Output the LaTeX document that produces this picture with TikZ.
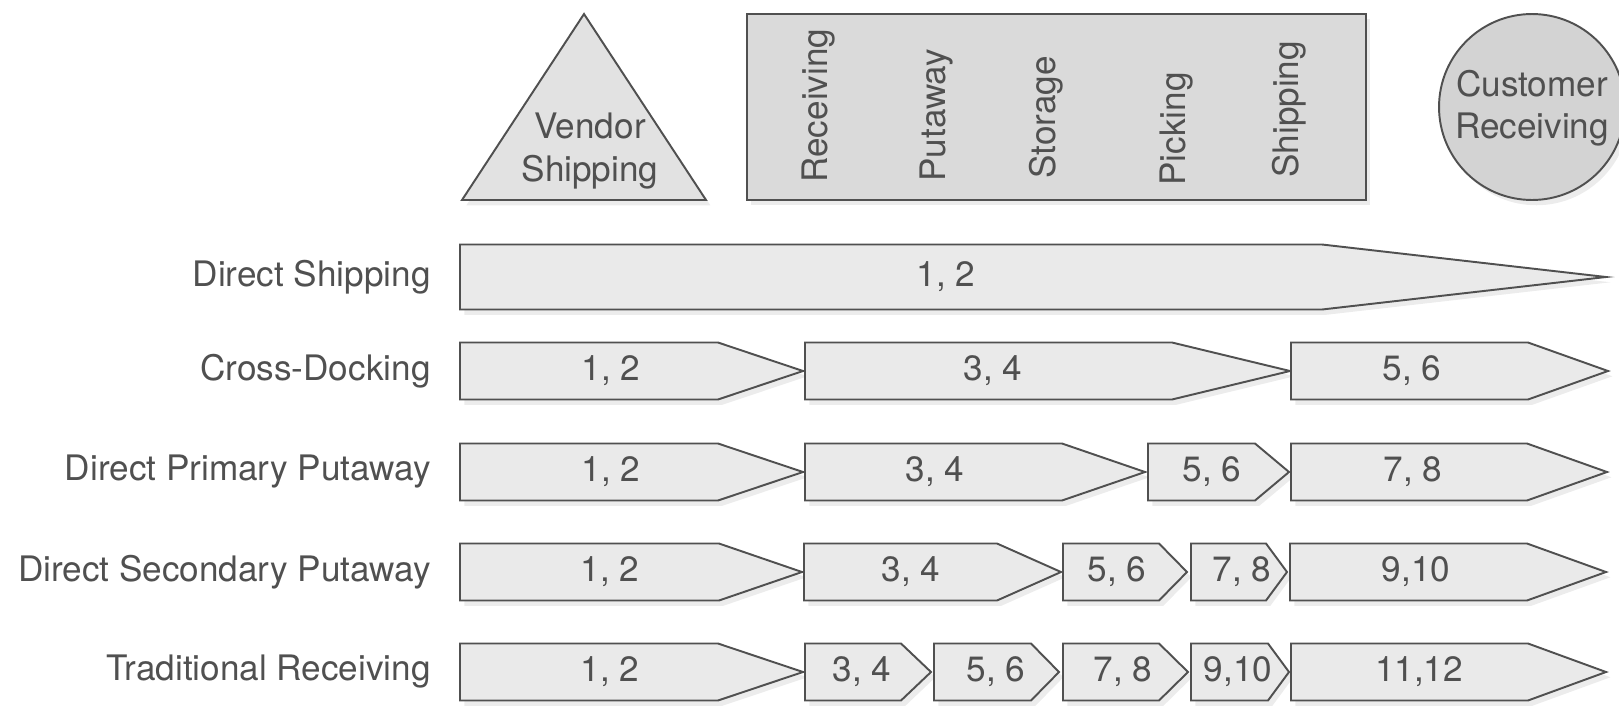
\documentclass[tikz,border=0pt]{standalone}
\usepackage{fontspec}
\setmainfont{TeX Gyre Heros}
\usetikzlibrary{shadows}

\definecolor{inkgray}{HTML}{505050}
\definecolor{segfill}{HTML}{EAEAEA}
\definecolor{vendfill}{HTML}{E2E2E2}
\definecolor{whfill}{HTML}{DADADA}
\definecolor{custfill}{HTML}{D3D3D3}

\begin{document}
\begin{tikzpicture}[x=0.02cm, y=-0.02cm,
    every node/.style={text=inkgray, font=\fontsize{20}{24}\selectfont, inner sep=0pt},
    part/.style={draw=inkgray, line width=1.1pt,
      drop shadow={shadow xshift=2.5pt, shadow yshift=-3pt, fill=black!15}},
    seg/.style={part, fill=segfill},
    rowlabel/.style={anchor=east},
    stage/.style={rotate=90, anchor=base west}]
        \useasboundingbox (0,0) rectangle (1619,714);

        % Vendor
        \draw[part, fill=vendfill] (462,200) -- (584,14) -- (706,200) -- cycle;
        \node[align=center] (vendor) at (590,151) {Vendor\\Shipping};

        % Warehouse with its stages
        \draw[part, fill=whfill] (747,14) rectangle (1366,200);
        \node[stage] (rcv) at (827,183) {Receiving};
        \node[stage] (put) at (945,182) {Putaway};
        \node[stage] (sto) at (1055,179) {Storage};
        \node[stage] (pck) at (1185,186) {Picking};
        \node[stage] (shp) at (1298,178) {Shipping};

        % Customer
        \draw[part, fill=custfill] (1532,107) circle (1.86cm);
        \node[align=center] (cust) at (1532,108) {Customer\\Receiving};

        % Direct Shipping
        \node[rowlabel] (ds) at (431,277) {Direct Shipping};
        \draw[seg] (460,244.5) -- (1322,244.5) -- (1606,277) -- (1322,309.5) -- (460,309.5) -- cycle;
        \node (ds1) at (946,277) {1, 2};

        % Cross-Docking
        \node[rowlabel] (cd) at (431,371) {Cross-Docking};
        \foreach \xl/\xs/\xt/\xc/\lbl [count=\i] in {460/718/803/611/{1, 2}, 805/1172/1290/993/{3, 4},
            1291/1528/1608/1412/{5, 6}} {
          \draw[seg] (\xl,342.5) -- (\xs,342.5) -- (\xt,371) -- (\xs,399.5) -- (\xl,399.5) -- cycle;
          \node (cd\i) at (\xc,371) {\lbl};
        }

        % Direct Primary Putaway
        \node[rowlabel] (dpp) at (431,472) {Direct Primary Putaway};
        \foreach \xl/\xs/\xt/\xc/\lbl [count=\i] in {460/718/803/611/{1, 2}, 805/1062/1145/935/{3, 4},
            1148/1255/1289/1212/{5, 6}, 1291/1527/1607/1413/{7, 8}} {
          \draw[seg] (\xl,443.5) -- (\xs,443.5) -- (\xt,472) -- (\xs,500.5) -- (\xl,500.5) -- cycle;
          \node (dpp\i) at (\xc,472) {\lbl};
        }

        % Direct Secondary Putaway
        \node[rowlabel] (dsp) at (431,572) {Direct Secondary Putaway};
        \foreach \xl/\xs/\xt/\xc/\lbl [count=\i] in {460/719/802/610/{1, 2}, 804/997/1061/911/{3, 4},
            1063/1159/1187/1117/{5, 6}, 1191/1266/1287/1242/{7, 8}, 1290/1527/1606/1416/{9,10}} {
          \draw[seg] (\xl,543.5) -- (\xs,543.5) -- (\xt,572) -- (\xs,600.5) -- (\xl,600.5) -- cycle;
          \node (dsp\i) at (\xc,572) {\lbl};
        }

        % Traditional Receiving
        \node[rowlabel] (tr) at (431,672) {Traditional Receiving};
        \foreach \xl/\xs/\xt/\xc/\lbl [count=\i] in {460/718/803/610/{1, 2}, 805/901/931/862/{3, 4},
            934/1031/1059/996/{5, 6}, 1063/1159/1188/1123/{7, 8}, 1191/1268/1289/1238/{9,10},
            1291/1528/1606/1419/{11,12}} {
          \draw[seg] (\xl,643.5) -- (\xs,643.5) -- (\xt,672) -- (\xs,700.5) -- (\xl,700.5) -- cycle;
          \node (tr\i) at (\xc,672) {\lbl};
        }
      \end{tikzpicture}
\end{document}
